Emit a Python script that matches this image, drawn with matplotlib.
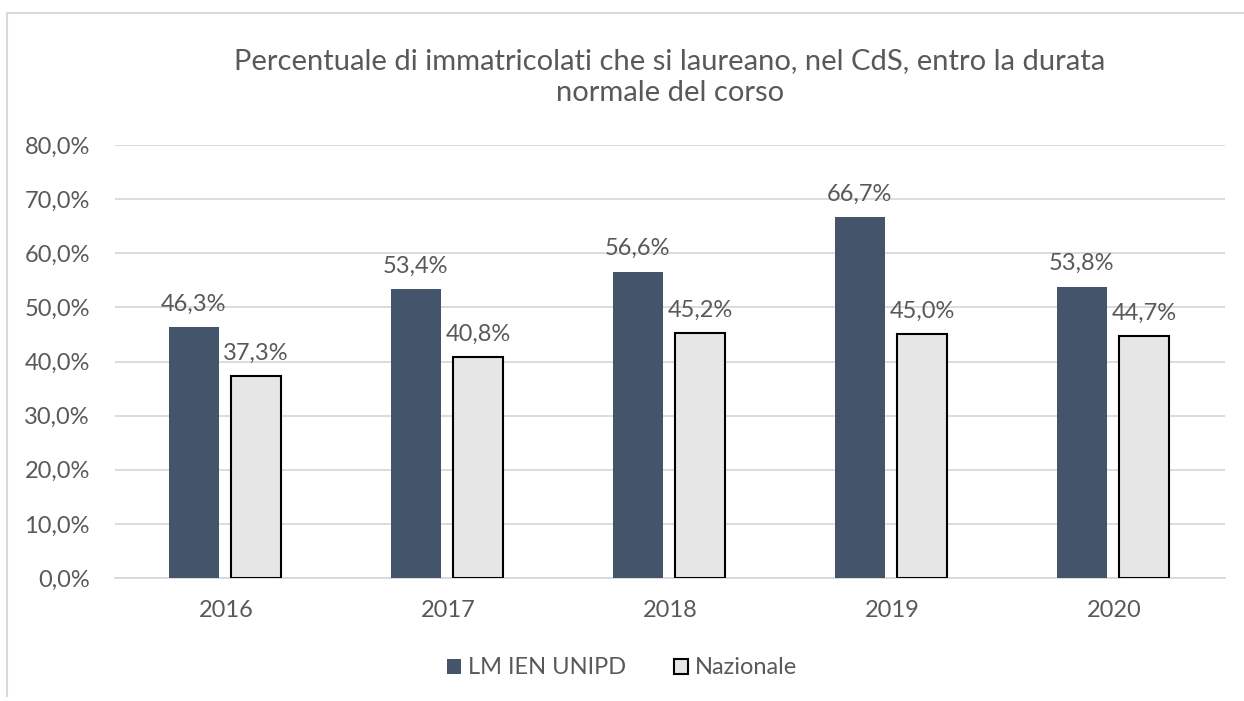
import matplotlib
matplotlib.use("Agg")
import matplotlib.pyplot as plt
from matplotlib.lines import Line2D
from matplotlib.ticker import FuncFormatter
import numpy as np

plt.rcParams["font.family"] = ["Lato", "DejaVu Sans"]

anni = ["2016", "2017", "2018", "2019", "2020"]
unipd = [0.463, 0.534, 0.566, 0.667, 0.538]
nazionale = [0.373, 0.408, 0.452, 0.450, 0.447]

GRIGIO = "#595959"
SCURO = "#44546A"
CHIARO = "#E7E6E6"
GRID = "#D9D9D9"

W, H = 1244, 701
fig = plt.figure(figsize=(W / 100, H / 100), dpi=100)
ax = fig.add_axes([115 / W, (H - 578) / H, 1110 / W, 433 / H])

x = np.arange(len(anni))
bw = 0.225
b1 = ax.bar(x - 0.145, unipd, bw, color=SCURO, label="LM IEN UNIPD", zorder=3)
b2 = ax.bar(x + 0.135, nazionale, bw, color=CHIARO, edgecolor="black", linewidth=1.5,
            label="Nazionale", zorder=3)

fmt = lambda v: f"{v * 100:.1f}%".replace(".", ",")
for bars, vals in ((b1, unipd), (b2, nazionale)):
    for r, v in zip(bars, vals):
        ax.annotate(fmt(v), (r.get_x() + r.get_width() / 2, v), xytext=(0, 9),
                    textcoords="offset points", ha="center", va="bottom",
                    fontsize=17, color=GRIGIO)

ax.set_xlim(-0.5, len(anni) - 0.5)
ax.set_ylim(0, 0.8)
ax.set_yticks(np.arange(0, 0.81, 0.1))
ax.yaxis.set_major_formatter(FuncFormatter(lambda v, p: fmt(v)))
ax.set_xticks(x)
ax.set_xticklabels(anni)
ax.tick_params(axis="both", length=0, labelsize=17, labelcolor=GRIGIO)
ax.tick_params(axis="y", pad=18)
ax.tick_params(axis="x", pad=16)
ax.grid(axis="y", color=GRID, lw=1.3, zorder=0)
for s in ("top", "right", "left"):
    ax.spines[s].set_visible(False)
ax.spines["bottom"].set_color(GRID)
ax.spines["bottom"].set_linewidth(1.3)

fig.text(670 / W, 1 - 77 / H, "Percentuale di immatricolati che si laureano, nel CdS, entro la durata\nnormale del corso",
         ha="center", va="center", fontsize=21, color=GRIGIO, linespacing=1.3)

ax.legend(loc="center", bbox_to_anchor=(622 / W, 1 - 668 / H), bbox_transform=fig.transFigure,
          ncol=2, frameon=False, fontsize=17, labelcolor=GRIGIO, handlelength=0.6,
          handleheight=0.6, columnspacing=2.0, handletextpad=0.3)

# bordo del grafico
fig.add_artist(Line2D([7 / W, 7 / W], [1 - 13 / H, 1 - 696 / H], color=GRID, lw=1.5))
fig.add_artist(Line2D([7 / W, 1], [1 - 13 / H, 1 - 13 / H], color=GRID, lw=1.5))

fig.savefig("out.png", dpi=100)
